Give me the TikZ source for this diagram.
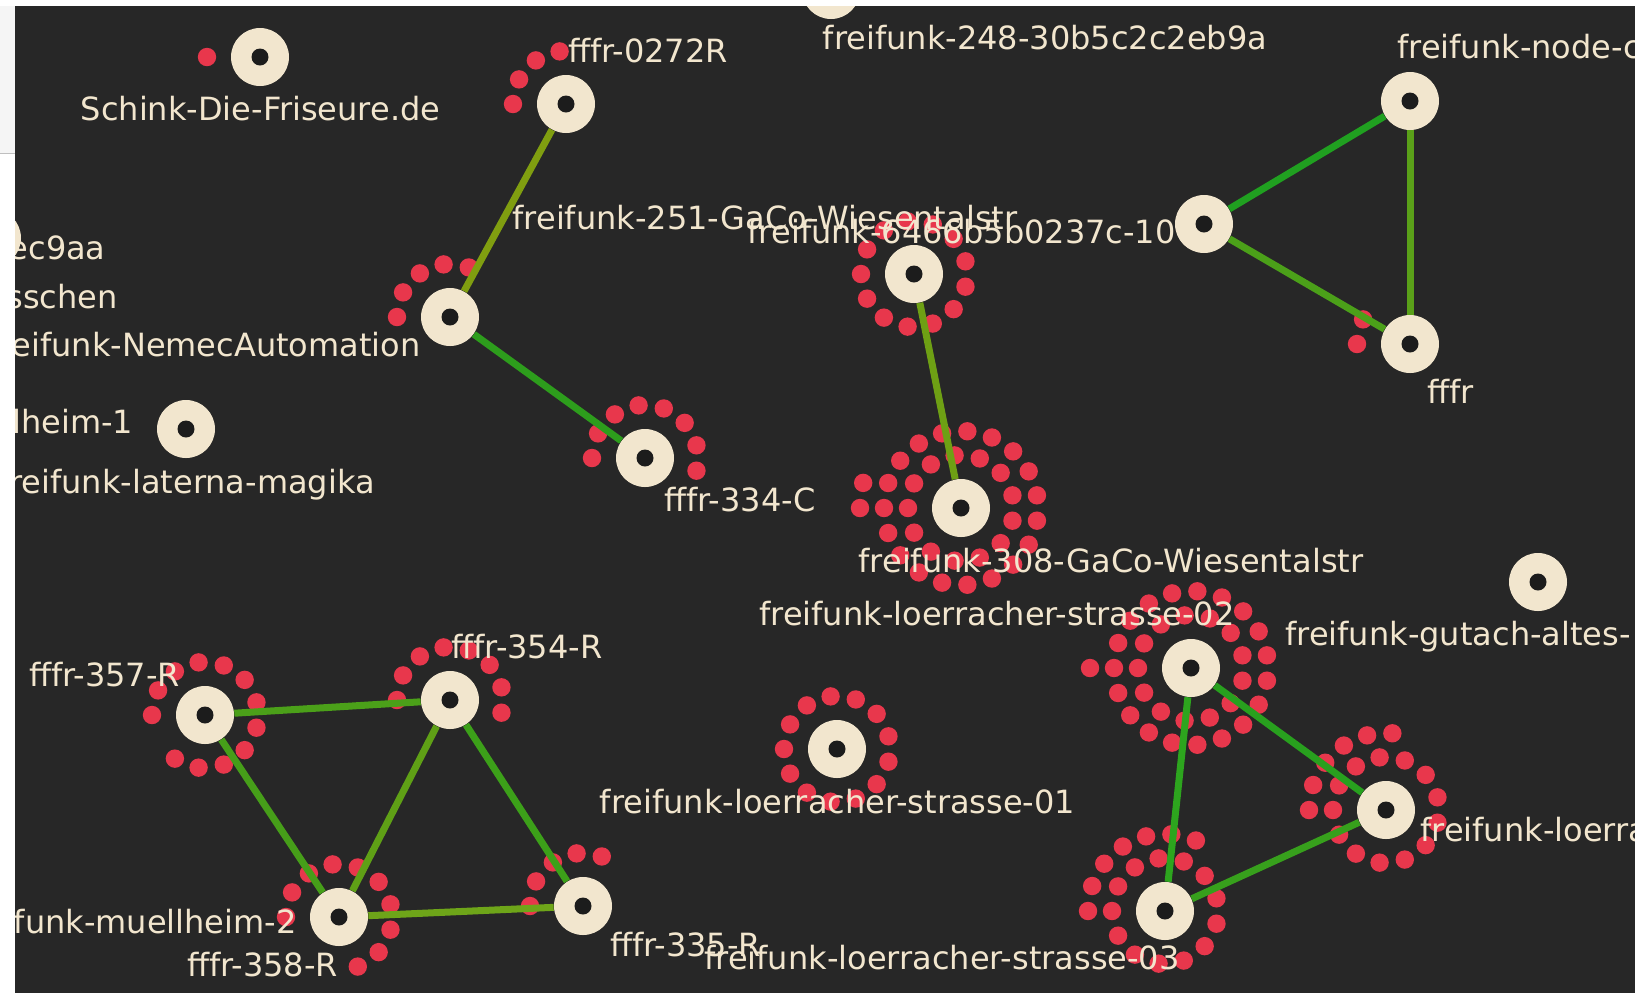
\documentclass[tikz,border=0pt]{standalone}
\usepackage{fontspec}
\setmainfont{DejaVu Sans}
\usepackage{tikz}
\usepackage{color}

\definecolor{bg}{RGB}{39,39,39}
\definecolor{cream}{RGB}{242,230,206}
\definecolor{client}{RGB}{232,55,76}
\definecolor{hole}{RGB}{28,28,28}

% clients sit on rings round a router: 13, 19, 25 per ring
\newcommand{\drawclients}[2]{%
  \foreach \k in {1,...,#2}{%
    \pgfmathsetmacro{\crad}{\k<=13 ? 53 : (\k<=32 ? 77 : 101)}%
    \pgfmathsetmacro{\cnum}{\k<=13 ? 13 : (\k<=32 ? 19 : 25)}%
    \pgfmathsetmacro{\cidx}{\k<=13 ? \k-1 : (\k<=32 ? \k-14 : \k-33)}%
    \fill[client] (#1) ++({180+360/\cnum*\cidx}:\crad) circle (4.6pt);
  }}

\begin{document}
\begin{tikzpicture}[x=0.5pt,y=0.5pt,yscale=-1,
  router/.style={circle,fill=cream,inner sep=0pt,minimum size=29pt,
    path picture={\fill[hole] (path picture bounding box.center) circle (4.25pt);}},
  lbl/.style={text=cream,inner sep=0pt,font=\fontsize{16}{19}\selectfont},
  link/.style={line width=3.5pt}]
\useasboundingbox (0,0) rectangle (1635,993);
\fill[bg] (0,0) rectangle (1635,993);

%Routers
\node[router] (schink) at (260,57) {};
\node[router] (r0272) at (566,104) {};
\node[router] (ff248) at (831,-10) {};
\node[router] (nodec) at (1410,101) {};
\node[router] (ff6466) at (1204,224) {};
\node[router] (fffr) at (1410,344) {};
\node[router] (ec9aa) at (-8,238) {};
\node[router] (nemec) at (450,317) {};
\node[router] (gaco251) at (914,274) {};
\node[router] (muell1) at (186,429) {};
\node[router] (c334) at (645,458) {};
\node[router] (gaco308) at (961,508) {};
\node[router] (ls02) at (1191,668) {};
\node[router] (gutach) at (1538,582) {};
\node[router] (r357) at (205,715) {};
\node[router] (r354) at (450,700) {};
\node[router] (r358) at (339,917) {};
\node[router] (r335) at (583,906) {};
\node[router] (ls01) at (837,749) {};
\node[router] (ls03) at (1165,911) {};
\node[router] (loerr) at (1386,810) {};

%Clients
\drawclients{schink}{1}
\drawclients{r0272}{4}
\drawclients{fffr}{2}
\drawclients{nemec}{5}
\drawclients{gaco251}{13}
\drawclients{c334}{8}
\drawclients{gaco308}{34}
\drawclients{ls02}{33}
\drawclients{r357}{12}
\drawclients{r354}{8}
\drawclients{r358}{10}
\drawclients{r335}{5}
\drawclients{ls01}{13}
\drawclients{ls03}{20}
\drawclients{loerr}{19}

%Links
\draw[link, draw={rgb, 255:red, 128; green, 158; blue, 16 }] (r0272) -- (nemec);
\draw[link, draw={rgb, 255:red, 45; green, 157; blue, 28 }] (nemec) -- (c334);
\draw[link, draw={rgb, 255:red, 110; green, 160; blue, 20 }] (gaco251) -- (gaco308);
\draw[link, draw={rgb, 255:red, 32; green, 160; blue, 32 }] (ff6466) -- (nodec);
\draw[link, draw={rgb, 255:red, 75; green, 160; blue, 25 }] (ff6466) -- (fffr);
\draw[link, draw={rgb, 255:red, 90; green, 160; blue, 25 }] (nodec) -- (fffr);
\draw[link, draw={rgb, 255:red, 75; green, 160; blue, 25 }] (r357) -- (r354);
\draw[link, draw={rgb, 255:red, 70; green, 158; blue, 25 }] (r357) -- (r358);
\draw[link, draw={rgb, 255:red, 95; green, 160; blue, 22 }] (r354) -- (r358);
\draw[link, draw={rgb, 255:red, 60; green, 160; blue, 25 }] (r354) -- (r335);
\draw[link, draw={rgb, 255:red, 110; green, 165; blue, 25 }] (r358) -- (r335);
\draw[link, draw={rgb, 255:red, 45; green, 165; blue, 30 }] (ls02) -- (ls03);
\draw[link, draw={rgb, 255:red, 40; green, 160; blue, 30 }] (ls02) -- (loerr);
\draw[link, draw={rgb, 255:red, 55; green, 160; blue, 28 }] (ls03) -- (loerr);

% Text Node
\node[lbl,anchor=base] (schink-l) at (260.5,120) {Schink-Die-Friseure.de};
\node[lbl,anchor=base] (r0272-l) at (648,62) {fffr-0272R};
\node[lbl,anchor=base] (ff248-l) at (1045,49) {freifunk-248-30b5c2c2eb9a};
\node[lbl,anchor=base west] (nodec-l) at (1397,58) {freifunk-node-c};
\node[lbl,anchor=base] (gaco251-l) at (765,229) {freifunk-251-GaCo-Wiesentalstr};
\node[lbl,anchor=base east] (ff6466-l) at (1176,243) {freifunk-6466b5b0237c-10};
\node[lbl,anchor=base west] (fffr-l) at (1427,403) {fffr};
\node[lbl,anchor=base east] (ec9aa-l) at (106,259) {ec9aa};
\node[lbl,anchor=base east] (sschen-l) at (118,308) {sschen};
\node[lbl,anchor=base east] (nemec-l) at (421,356) {freifunk-NemecAutomation};
\node[lbl,anchor=base east] (muell1-l) at (133.5,433) {lheim-1};
\node[lbl,anchor=base east] (laterna-l) at (375,493) {freifunk-laterna-magika};
\node[lbl,anchor=base] (c334-l) at (740,511) {fffr-334-C};
\node[lbl,anchor=base] (gaco308-l) at (1111,572) {freifunk-308-GaCo-Wiesentalstr};
\node[lbl,anchor=base] (ls02-l) at (997,625) {freifunk-loerracher-strasse-02};
\node[lbl,anchor=base west] (gutach-l) at (1285,645) {freifunk-gutach-altes-};
\node[lbl,anchor=base] (r357-l) at (104.5,686) {fffr-357-R};
\node[lbl,anchor=base] (r354-l) at (527,658) {fffr-354-R};
\node[lbl,anchor=base east] (muell2-l) at (297,933) {freifunk-muellheim-2};
\node[lbl,anchor=base] (r358-l) at (262.5,976) {fffr-358-R};
\node[lbl,anchor=base] (r335-l) at (685.5,956) {fffr-335-R};
\node[lbl,anchor=base] (ls01-l) at (837.5,813) {freifunk-loerracher-strasse-01};
\node[lbl,anchor=base] (ls03-l) at (942,969) {freifunk-loerracher-strasse-03};
\node[lbl,anchor=base west] (loerr-l) at (1420,841) {freifunk-loerra};

%Window edges
\fill[white] (0,0) rectangle (1635,6);
\fill[white] (0,0) rectangle (15,993);
\fill[black!4] (0,6) rectangle (15,153);
\draw[black!25] (0,153) -- (15,153);

\end{tikzpicture}
\end{document}
